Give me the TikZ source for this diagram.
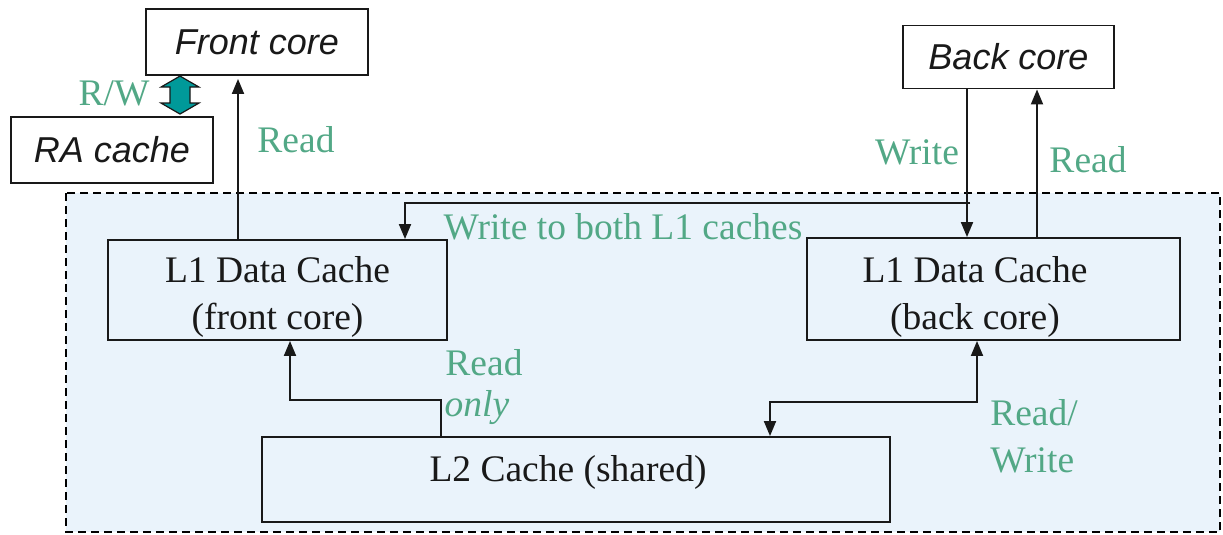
\documentclass[tikz,border=0pt]{standalone}
\usepackage{fontspec}
\setmainfont{Liberation Serif}
\newfontfamily\arialfont{Liberation Sans}
\usetikzlibrary{arrows.meta,calc}
\definecolor{labgreen}{RGB}{82,168,134}
\definecolor{zonefill}{RGB}{234,243,251}
\definecolor{teal2}{RGB}{0,153,153}
\definecolor{ink}{RGB}{25,25,25}
\tikzset{
  box/.style={draw=ink,line width=1.9pt,inner sep=0pt},
  boxtext/.style={text=ink,align=center,inner sep=0pt,
    font=\fontsize{37.5}{47}\selectfont},
  corebox/.style={box,text=ink,font=\arialfont\itshape\fontsize{36}{40}\selectfont},
  lab/.style={text=labgreen,inner sep=0pt,font=\fontsize{37.5}{47}\selectfont},
  arr/.style={draw=ink,line width=1.9pt,-{Triangle[length=15pt,width=12pt]}},
  arrboth/.style={draw=ink,line width=1.9pt,{Triangle[length=15pt,width=12pt]}-{Triangle[length=15pt,width=12pt]}},
}
\begin{document}
\begin{tikzpicture}[x=1pt,y=-1pt]
\useasboundingbox (0,0) rectangle (1223,535);
% shared memory zone
\draw[fill=zonefill,line width=1.9pt,dash pattern=on 8pt off 5pt] (66,193) rectangle (1220,532);

% cores and caches
\node[corebox,minimum width=222pt,minimum height=66pt] (front) at (257,42) {Front core};
\node[corebox,minimum width=202pt,minimum height=66pt] (ra) at (112,150) {RA cache};
\node[corebox,minimum width=211pt,minimum height=63pt] (back) at (1008.5,57) {Back core};
\node[box,minimum width=339pt,minimum height=100pt] (l1f) at (277.5,290) {};
\node[boxtext] (l1ft) at (277.5,297) {L1 Data Cache\\(front core)};
\node[box,minimum width=373pt,minimum height=102pt] (l1b) at (993.5,289) {};
\node[boxtext] (l1bt) at (975,297) {L1 Data Cache\\(back core)};
\node[box,minimum width=628pt,minimum height=85pt] (l2) at (576,479.5) {};
\node[boxtext] (l2t) at (568,472) {L2 Cache (shared)};

% RA cache <-> front core
\draw[draw=ink,line width=1.2pt,fill=teal2]
  ($(ra.north)+(68,-2)$) -- ++(19,-11) -- ++(-9,0) -- ++(0,-16) -- ++(9,0)
  -- ++(-19,-11) -- ++(-19,11) -- ++(9,0) -- ++(0,16) -- ++(-9,0) -- cycle;
\node[lab] (rw) at (114,93) {R/W};

% front core read path
\draw[arr] ([xshift=-39.5]l1f.north) -- ([xshift=-39.5,yshift=-3]l1f.north |- front.south);
\node[lab] (rdf) at (296,140) {Read};

% back core paths
\draw[arr] ([xshift=-41.5]back.south) -- ([xshift=-26.5]l1b.north);
\draw[arr] ([xshift=43.5]l1b.north) -- ([xshift=28.5]back.south);
\node[lab] (wrb) at (917,152) {Write};
\node[lab] (rdb) at (1088,160) {Read};

% write-through to both L1 caches
\coordinate (wj) at (970,203);
\draw[arr] (wj) -| ([xshift=127.5]l1f.north);
\node[lab] (both) at (623,227) {Write to both L1 caches};

% L2 to L1 paths
\draw[arr] ([xshift=-135]l2.north) -- ++(0,-36) -| ([xshift=12.5]l1f.south);
\node[lab] (rdo) at (484,363) {Read};
\node[lab,font=\itshape\fontsize{37.5}{47}\selectfont] (only) at (477,408) {only};
\draw[arrboth] ([xshift=-16.5]l1b.south) -- ++(0,61) -| ([xshift=194]l2.north);
\node[lab,align=left] (rwb) at (1034,436) {Read/\\Write};
\end{tikzpicture}
\end{document}
